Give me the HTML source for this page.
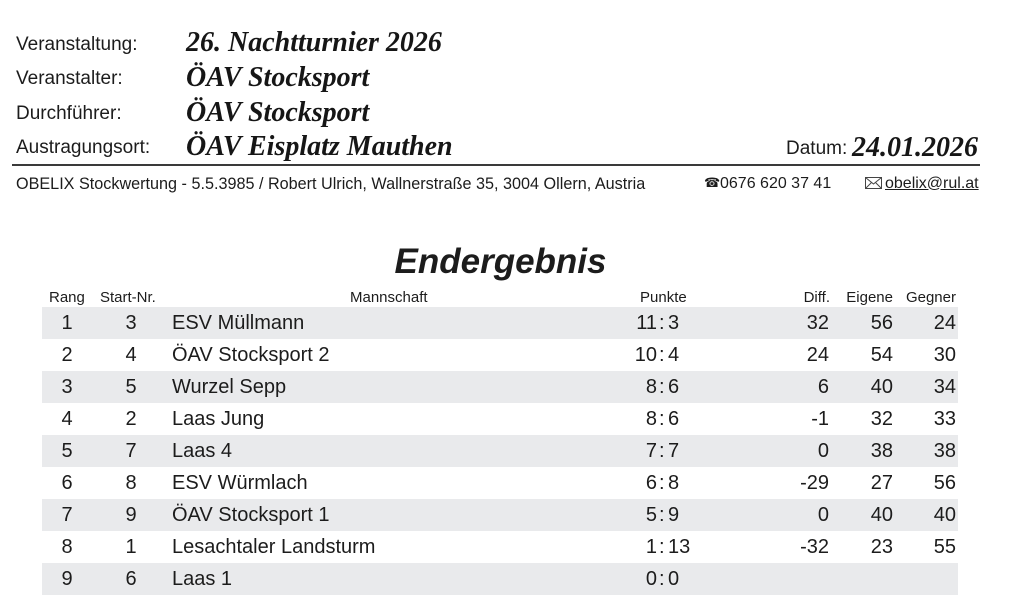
<!DOCTYPE html>
<html><head><meta charset="utf-8">
<style>
html,body{margin:0;padding:0;background:#fff;}
body{width:1024px;height:616px;position:relative;overflow:hidden;color:#1c1c1c;font-family:"Liberation Sans",Arial,sans-serif;}
.t{position:absolute;white-space:nowrap;line-height:1;}
.lab{font-size:19px;}
.val{font-family:"Liberation Serif","Times New Roman",serif;font-weight:bold;font-style:italic;font-size:28px;color:#161616;}
.hd{font-size:15px;}
.d{font-size:20px;}
.band{position:absolute;left:42px;width:916px;height:32px;background:#e9eaec;}
</style></head><body>

<div class="t lab" style="left:16px;top:35px;">Veranstaltung:</div>
<div class="t lab" style="left:16px;top:69px;">Veranstalter:</div>
<div class="t lab" style="left:16px;top:104px;">Durchführer:</div>
<div class="t lab" style="left:16px;top:138px;">Austragungsort:</div>

<div class="t val" style="left:186px;top:28.5px;">26. Nachtturnier 2026</div>
<div class="t val" style="left:186px;top:63.5px;">ÖAV Stocksport</div>
<div class="t val" style="left:186px;top:98.5px;">ÖAV Stocksport</div>
<div class="t val" style="left:186px;top:132.5px;">ÖAV Eisplatz Mauthen</div>

<div class="t lab" style="left:786px;top:139px;">Datum:</div>
<div class="t val" style="left:852px;top:133.5px;">24.01.2026</div>

<div style="position:absolute;left:12px;top:164px;width:968px;height:2px;background:#3a3a3a;"></div>

<div class="t" style="left:16px;top:175.5px;font-size:16.2px;">OBELIX Stockwertung - 5.5.3985 / Robert Ulrich, Wallnerstraße 35, 3004 Ollern, Austria</div>
<div class="t" style="left:704px;top:177px;font-size:13px;font-family:'DejaVu Sans',sans-serif;">☎</div>
<div class="t" style="left:720px;top:175.5px;font-size:16px;">0676 620 37 41</div>
<svg style="position:absolute;left:865px;top:177px;" width="18" height="13" viewBox="0 0 18 13">
<rect x="0.5" y="0.5" width="16" height="11" fill="none" stroke="#444" stroke-width="1"/>
<polyline points="0.5,0.5 8.5,7 16.5,0.5" fill="none" stroke="#444" stroke-width="1"/>
<line x1="0.5" y1="11.5" x2="6.5" y2="5.5" stroke="#444" stroke-width="1"/>
<line x1="16.5" y1="11.5" x2="10.5" y2="5.5" stroke="#444" stroke-width="1"/>
</svg>
<div class="t" style="left:885px;top:175.5px;font-size:16px;text-decoration:underline;">obelix@rul.at</div>

<div class="t" style="left:300px;width:401px;text-align:center;top:243.5px;font-size:35px;font-weight:bold;font-style:italic;">Endergebnis</div>

<div class="t hd" style="left:49px;top:290.3px;">Rang</div>
<div class="t hd" style="left:100px;top:290.3px;">Start-Nr.</div>
<div class="t hd" style="left:350px;top:290.3px;">Mannschaft</div>
<div class="t hd" style="left:640px;top:290.3px;">Punkte</div>
<div class="t hd" style="right:194px;top:290.3px;">Diff.</div>
<div class="t hd" style="right:131px;top:290.3px;">Eigene</div>
<div class="t hd" style="right:68px;top:290.3px;">Gegner</div>

<div class="band" style="top:307px;"></div>
<div class="band" style="top:371px;"></div>
<div class="band" style="top:435px;"></div>
<div class="band" style="top:499px;"></div>
<div class="band" style="top:563px;"></div>

<!-- row 1 -->
<div class="t d" style="left:47px;width:40px;text-align:center;top:313px;">1</div>
<div class="t d" style="left:111px;width:40px;text-align:center;top:313px;">3</div>
<div class="t d" style="left:172px;top:313px;">ESV Müllmann</div>
<div class="t d" style="right:367px;top:313px;">11</div>
<div class="t d" style="left:659px;top:313px;">:</div>
<div class="t d" style="left:668px;top:313px;">3</div>
<div class="t d" style="right:195px;top:313px;">32</div>
<div class="t d" style="right:131px;top:313px;">56</div>
<div class="t d" style="right:68px;top:313px;">24</div>
<!-- row 2 -->
<div class="t d" style="left:47px;width:40px;text-align:center;top:345px;">2</div>
<div class="t d" style="left:111px;width:40px;text-align:center;top:345px;">4</div>
<div class="t d" style="left:172px;top:345px;">ÖAV Stocksport 2</div>
<div class="t d" style="right:367px;top:345px;">10</div>
<div class="t d" style="left:659px;top:345px;">:</div>
<div class="t d" style="left:668px;top:345px;">4</div>
<div class="t d" style="right:195px;top:345px;">24</div>
<div class="t d" style="right:131px;top:345px;">54</div>
<div class="t d" style="right:68px;top:345px;">30</div>
<!-- row 3 -->
<div class="t d" style="left:47px;width:40px;text-align:center;top:377px;">3</div>
<div class="t d" style="left:111px;width:40px;text-align:center;top:377px;">5</div>
<div class="t d" style="left:172px;top:377px;">Wurzel Sepp</div>
<div class="t d" style="right:367px;top:377px;">8</div>
<div class="t d" style="left:659px;top:377px;">:</div>
<div class="t d" style="left:668px;top:377px;">6</div>
<div class="t d" style="right:195px;top:377px;">6</div>
<div class="t d" style="right:131px;top:377px;">40</div>
<div class="t d" style="right:68px;top:377px;">34</div>
<!-- row 4 -->
<div class="t d" style="left:47px;width:40px;text-align:center;top:409px;">4</div>
<div class="t d" style="left:111px;width:40px;text-align:center;top:409px;">2</div>
<div class="t d" style="left:172px;top:409px;">Laas Jung</div>
<div class="t d" style="right:367px;top:409px;">8</div>
<div class="t d" style="left:659px;top:409px;">:</div>
<div class="t d" style="left:668px;top:409px;">6</div>
<div class="t d" style="right:195px;top:409px;">-1</div>
<div class="t d" style="right:131px;top:409px;">32</div>
<div class="t d" style="right:68px;top:409px;">33</div>
<!-- row 5 -->
<div class="t d" style="left:47px;width:40px;text-align:center;top:441px;">5</div>
<div class="t d" style="left:111px;width:40px;text-align:center;top:441px;">7</div>
<div class="t d" style="left:172px;top:441px;">Laas 4</div>
<div class="t d" style="right:367px;top:441px;">7</div>
<div class="t d" style="left:659px;top:441px;">:</div>
<div class="t d" style="left:668px;top:441px;">7</div>
<div class="t d" style="right:195px;top:441px;">0</div>
<div class="t d" style="right:131px;top:441px;">38</div>
<div class="t d" style="right:68px;top:441px;">38</div>
<!-- row 6 -->
<div class="t d" style="left:47px;width:40px;text-align:center;top:473px;">6</div>
<div class="t d" style="left:111px;width:40px;text-align:center;top:473px;">8</div>
<div class="t d" style="left:172px;top:473px;">ESV Würmlach</div>
<div class="t d" style="right:367px;top:473px;">6</div>
<div class="t d" style="left:659px;top:473px;">:</div>
<div class="t d" style="left:668px;top:473px;">8</div>
<div class="t d" style="right:195px;top:473px;">-29</div>
<div class="t d" style="right:131px;top:473px;">27</div>
<div class="t d" style="right:68px;top:473px;">56</div>
<!-- row 7 -->
<div class="t d" style="left:47px;width:40px;text-align:center;top:505px;">7</div>
<div class="t d" style="left:111px;width:40px;text-align:center;top:505px;">9</div>
<div class="t d" style="left:172px;top:505px;">ÖAV Stocksport 1</div>
<div class="t d" style="right:367px;top:505px;">5</div>
<div class="t d" style="left:659px;top:505px;">:</div>
<div class="t d" style="left:668px;top:505px;">9</div>
<div class="t d" style="right:195px;top:505px;">0</div>
<div class="t d" style="right:131px;top:505px;">40</div>
<div class="t d" style="right:68px;top:505px;">40</div>
<!-- row 8 -->
<div class="t d" style="left:47px;width:40px;text-align:center;top:537px;">8</div>
<div class="t d" style="left:111px;width:40px;text-align:center;top:537px;">1</div>
<div class="t d" style="left:172px;top:537px;">Lesachtaler Landsturm</div>
<div class="t d" style="right:367px;top:537px;">1</div>
<div class="t d" style="left:659px;top:537px;">:</div>
<div class="t d" style="left:668px;top:537px;">13</div>
<div class="t d" style="right:195px;top:537px;">-32</div>
<div class="t d" style="right:131px;top:537px;">23</div>
<div class="t d" style="right:68px;top:537px;">55</div>
<!-- row 9 -->
<div class="t d" style="left:47px;width:40px;text-align:center;top:569px;">9</div>
<div class="t d" style="left:111px;width:40px;text-align:center;top:569px;">6</div>
<div class="t d" style="left:172px;top:569px;">Laas 1</div>
<div class="t d" style="right:367px;top:569px;">0</div>
<div class="t d" style="left:659px;top:569px;">:</div>
<div class="t d" style="left:668px;top:569px;">0</div>

</body></html>
